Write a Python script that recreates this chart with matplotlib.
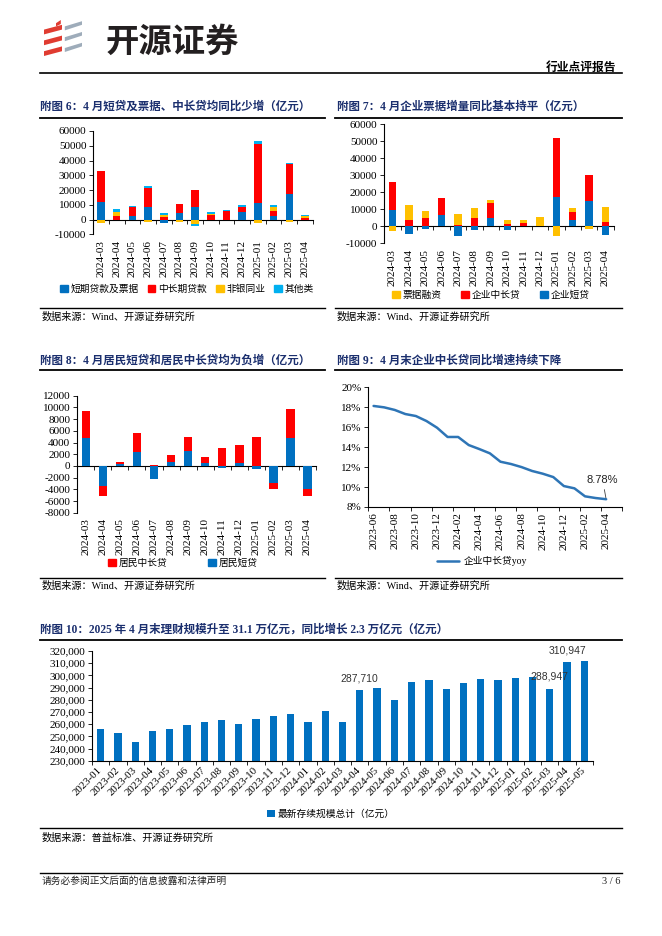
import numpy as np
import matplotlib
matplotlib.use('Agg')
import matplotlib.pyplot as plt
from matplotlib.patches import Patch, Polygon
from matplotlib.lines import Line2D

plt.rcParams['font.family'] = ['Liberation Serif', 'Noto Sans CJK SC']
plt.rcParams['axes.unicode_minus'] = False

W, H = 662, 936

BLUE = '#0070C0'
RED = '#FF0000'
YELLOW = '#FFC000'
CYAN = '#00B0F0'
NAVY = '#1B2F6E'

############################################################ data
months_a = ['2024-03', '2024-04', '2024-05', '2024-06', '2024-07', '2024-08', '2024-09',
            '2024-10', '2024-11', '2024-12', '2025-01', '2025-02', '2025-03', '2025-04']

# fig 6
loan_short = [12000, 0, 2500, 8600, -2300, 4100, 8200, 0, 0, 4800, 11300, 2300, 17000, 0]
loan_midlong = [20600, 2700, 5700, 12500, 1600, 6300, 11800, 2900, 5700, 3400, 39700, 3800, 20900, 900]
loan_nonbank = [-2500, 2500, 0, -1600, 1600, -1800, -3000, 900, 0, 600, -2300, 2700, -1800, 1800]
loan_other = [300, 2000, 1300, 1600, 1300, 300, -1100, 1200, 600, 950, 2500, 1200, 300, 700]

# fig 7
corp_short = [9800, -4300, -1400, 6900, -5500, -2000, 4700, -2000, 0, 0, 17300, 3500, 14700, -4900]
corp_midlong = [16500, 3900, 5100, 10000, 1000, 5100, 9200, 1600, 2200, 0, 34900, 5100, 15700, 2700]
corp_bill = [-2500, 8800, 4100, 0, 6500, 5900, 1400, 2300, 1700, 5700, -5500, 2400, -1800, 8900]

# fig 8
hh_short = [4700, -3500, 400, 2400, -2200, 700, 2600, 500, -340, 570, -500, -2850, 4700, -4000]
hh_midlong = [4650, -1700, 300, 3200, 100, 1200, 2300, 1050, 3000, 2980, 4900, -1050, 5100, -1200]

# fig 9
months_c = ['2023-06', '2023-07', '2023-08', '2023-09', '2023-10', '2023-11', '2023-12',
            '2024-01', '2024-02', '2024-03', '2024-04', '2024-05', '2024-06', '2024-07',
            '2024-08', '2024-09', '2024-10', '2024-11', '2024-12', '2025-01', '2025-02',
            '2025-03', '2025-04', '2025-05']
corp_yoy = [18.13, 17.99, 17.73, 17.32, 17.12, 16.62, 15.95, 15.02, 15.02, 14.21, 13.81, 13.38,
            12.54, 12.31, 12.00, 11.61, 11.34, 11.00, 10.10, 9.87, 9.07, 8.90, 8.78]

# fig 10
months_d = ['2023-01', '2023-02', '2023-03', '2023-04', '2023-05', '2023-06', '2023-07',
            '2023-08', '2023-09', '2023-10', '2023-11', '2023-12', '2024-01', '2024-02',
            '2024-03', '2024-04', '2024-05', '2024-06', '2024-07', '2024-08', '2024-09',
            '2024-10', '2024-11', '2024-12', '2025-01', '2025-02', '2025-03', '2025-04', '2025-05']
wm_scale = [255800, 252700, 245100, 254400, 255800, 259300, 262000, 263400, 259900, 263900,
            266700, 268100, 261700, 270800, 262000, 287710, 289900, 279800, 294600, 296000,
            289100, 293500, 297300, 296000, 297600, 298700, 288947, 310947, 312000]
wm_labelled = ['2024-04', '2025-03', '2025-04']


############################################################ helpers
def box(l, t, r, b):
    return [l / W, 1 - b / H, (r - l) / W, (b - t) / H]


def ftext(x, y, s, **kw):
    fig.text(x / W, 1 - y / H, s, **kw)


def hline(x0, x1, y, lw=0.8):
    fig.add_artist(Line2D([x0 / W, x1 / W], [1 - y / H, 1 - y / H], color='black', lw=lw))


def stacked(ax, series, colors, width):
    x = np.arange(len(series[0]))
    pos = np.zeros(len(x))
    neg = np.zeros(len(x))
    for vals, c in zip(series, colors):
        v = np.asarray(vals, dtype=float)
        ax.bar(x, v, width, bottom=np.where(v >= 0, pos, neg), color=c, linewidth=0)
        pos += np.clip(v, 0, None)
        neg += np.clip(v, None, 0)


def bar_axes(ax, labels, ylo, yhi, step):
    n = len(labels)
    ax.set_xlim(-0.5, n - 0.5)
    ax.set_ylim(ylo, yhi)
    ax.set_yticks(np.arange(ylo, yhi + 1, step))
    ax.tick_params(axis='y', labelsize=8, length=3, width=0.6, pad=2)
    ax.set_xticks(np.arange(n), labels, rotation=90)
    ax.tick_params(axis='x', length=0, labelsize=8, pad=4)
    for s in ['top', 'right', 'bottom']:
        ax.spines[s].set_visible(False)
    ax.spines['left'].set_linewidth(0.8)
    zero = ax.secondary_xaxis((0 - ylo) / (yhi - ylo))
    zero.set_xticks(np.arange(n + 1) - 0.5, labels=[''] * (n + 1))
    zero.tick_params(length=3, width=0.6)
    zero.spines['bottom'].set_linewidth(0.8)
    ax.patch.set_alpha(0)


def legend(handles, labels, x, y, spacing):
    fig.legend(handles, labels, loc='center', bbox_to_anchor=(x / W, 1 - y / H), ncol=len(labels),
               frameon=False, fontsize=7, handlelength=0.8, handleheight=0.8,
               handletextpad=0.3, columnspacing=spacing)


fig = plt.figure(figsize=(6.62, 9.36), dpi=100)

############################################################ page header / footer
ax_logo = fig.add_axes(box(44, 20, 84, 60))
ax_logo.axis('off')
ax_logo.set_xlim(0, 1)
ax_logo.set_ylim(0, 1)
for k in range(3):
    y0 = 0.1 + k * 0.27
    ax_logo.add_patch(Polygon([(0.0, y0), (0.45, y0 + 0.12), (0.45, y0 + 0.24), (0.0, y0 + 0.12)],
                              color='#E03C31', lw=0))
    ax_logo.add_patch(Polygon([(0.52, y0 + 0.1), (0.95, y0 + 0.24), (0.95, y0 + 0.33), (0.52, y0 + 0.2)],
                              color='#9EACBA', lw=0))
ax_logo.add_patch(Polygon([(0.3, 0.92), (0.42, 1.0), (0.42, 0.9), (0.3, 0.84)], color='#E03C31', lw=0))

ftext(106, 42, '开源证券', fontsize=24, fontweight='bold', color='#231F20',
      family='Noto Sans CJK SC', va='center')
ftext(616, 67, '行业点评报告', fontsize=8.5, fontweight='bold', ha='right', va='center',
      family='Noto Sans CJK SC')
hline(40, 622, 73, lw=1.2)

hline(40, 622, 873, lw=1.0)
ftext(42, 881, '请务必参阅正文后面的信息披露和法律声明', fontsize=7, va='center', color='#222222')
ftext(620, 881, '3 / 6', fontsize=7.5, va='center', ha='right', color='#222222')

############################################################ 附图6
ftext(40, 107, '附图 6：4 月短贷及票据、中长贷均同比少增（亿元）', fontsize=8.3,
      fontweight='bold', color=NAVY, va='center')
hline(40, 325, 117.7, lw=1.3)
ax6 = fig.add_axes(box(93.3, 131, 312.7, 234.3))
stacked(ax6, [loan_short, loan_midlong, loan_nonbank, loan_other], [BLUE, RED, YELLOW, CYAN], 0.47)
bar_axes(ax6, months_a, -10000, 60000, 10000)
legend([Patch(color=c) for c in [BLUE, RED, YELLOW, CYAN]],
       ['短期贷款及票据', '中长期贷款', '非银同业', '其他类'], 187, 289, 0.9)
hline(40, 325, 308, lw=1.0)
ftext(42, 317, '数据来源：Wind、开源证券研究所', fontsize=7.3, va='center')

############################################################ 附图7
ftext(337, 107, '附图 7：4 月企业票据增量同比基本持平（亿元）', fontsize=8.3,
      fontweight='bold', color=NAVY, va='center')
hline(335, 622, 117.7, lw=1.3)
ax7 = fig.add_axes(box(384.3, 124.3, 613.7, 243.3))
stacked(ax7, [corp_short, corp_midlong, corp_bill], [BLUE, RED, YELLOW], 0.45)
bar_axes(ax7, months_a, -10000, 60000, 10000)
legend([Patch(color=c) for c in [YELLOW, RED, BLUE]],
       ['票据融资', '企业中长贷', '企业短贷'], 491, 295, 2.0)
hline(335, 622, 308, lw=1.0)
ftext(337, 317, '数据来源：Wind、开源证券研究所', fontsize=7.3, va='center')

############################################################ 附图8
ftext(40, 361, '附图 8：4 月居民短贷和居民中长贷均为负增（亿元）', fontsize=8.3,
      fontweight='bold', color=NAVY, va='center')
hline(40, 325, 370, lw=1.3)
ax8 = fig.add_axes(box(77.3, 395.7, 316, 512.7))
stacked(ax8, [hh_short, hh_midlong], [BLUE, RED], 0.5)
bar_axes(ax8, months_a, -8000, 12000, 2000)
legend([Patch(color=c) for c in [RED, BLUE]], ['居民中长贷', '居民短贷'], 183, 563, 4.2)
hline(40, 325, 578.3, lw=1.0)
ftext(42, 586, '数据来源：Wind、开源证券研究所', fontsize=7.3, va='center')

############################################################ 附图9
ftext(337, 361, '附图 9：4 月末企业中长贷同比增速持续下降', fontsize=8.3,
      fontweight='bold', color=NAVY, va='center')
hline(335, 622, 370, lw=1.3)
ax9 = fig.add_axes(box(368.3, 387.3, 622, 507))
x9 = np.arange(len(corp_yoy))
ax9.plot(x9, corp_yoy, color='#2E75B6', lw=1.8, solid_capstyle='round', label='企业中长贷yoy')
ax9.set_xlim(-0.5, len(months_c) - 0.5)
ax9.set_ylim(8, 20)
ax9.set_yticks(range(8, 21, 2), [f'{v}%' for v in range(8, 21, 2)])
ax9.set_xticks(np.arange(0, len(months_c), 2), months_c[::2], rotation=90)
ax9.set_xticks(np.arange(-0.5, len(months_c), 2), minor=True)
ax9.tick_params(axis='x', which='major', length=0, labelsize=8, pad=4)
ax9.tick_params(axis='x', which='minor', length=3, width=0.6)
ax9.tick_params(axis='y', labelsize=8, length=3, width=0.6, pad=2)
for s in ['top', 'right']:
    ax9.spines[s].set_visible(False)
ax9.patch.set_alpha(0)
ax9.annotate(f'{corp_yoy[-1]:.2f}%', xy=(x9[-1], corp_yoy[-1]), xytext=(-2.5, 13.5),
             textcoords='offset points', ha='center', va='center', fontsize=8,
             family='Liberation Sans', color='#222222',
             arrowprops=dict(arrowstyle='-', color='#404040', lw=0.6, shrinkA=1, shrinkB=1))
fig.legend(*ax9.get_legend_handles_labels(), loc='center', bbox_to_anchor=(482 / W, 1 - 561 / H),
           frameon=False, fontsize=7, handlelength=2.2, handletextpad=0.5)
hline(335, 622, 578.3, lw=1.0)
ftext(337, 586, '数据来源：Wind、开源证券研究所', fontsize=7.3, va='center')

############################################################ 附图10
ftext(40, 630, '附图 10：2025 年 4 月末理财规模升至 31.1 万亿元，同比增长 2.3 万亿元（亿元）',
      fontsize=8.3, fontweight='bold', color=NAVY, va='center')
hline(40, 622, 639.5, lw=1.3)
ax10 = fig.add_axes(box(92, 651, 593, 760.7))
x10 = np.arange(len(months_d))
ax10.bar(x10, wm_scale, 0.42, color=BLUE, linewidth=0, label='最新存续规模总计（亿元）')
ax10.set_xlim(-0.5, len(months_d) - 0.5)
ax10.set_ylim(230000, 320000)
ax10.set_yticks(range(230000, 320001, 10000), [f'{v:,}' for v in range(230000, 320001, 10000)])
ax10.set_xticks(x10, months_d, rotation=45, ha='right', va='center', rotation_mode='anchor')
ax10.set_xticks(np.arange(len(months_d) + 1) - 0.5, minor=True)
ax10.tick_params(axis='x', which='major', length=0, labelsize=7.8, pad=6)
ax10.tick_params(axis='x', which='minor', length=3, width=0.6)
ax10.tick_params(axis='y', labelsize=8, length=3, width=0.6, pad=2)
for s in ['top', 'right']:
    ax10.spines[s].set_visible(False)
ax10.patch.set_alpha(0)
for m in wm_labelled:
    i = months_d.index(m)
    ax10.annotate(f'{wm_scale[i]:,}', (i, wm_scale[i]), xytext=(0, 8.6), textcoords='offset points',
                  ha='center', va='center', fontsize=7.5, family='Liberation Sans', color='#333333')
fig.legend(*ax10.get_legend_handles_labels(), loc='center', bbox_to_anchor=(331 / W, 1 - 814 / H),
           frameon=False, fontsize=7, handlelength=0.8, handleheight=0.8, handletextpad=0.3)
hline(40, 622, 828.3, lw=1.0)
ftext(42, 838, '数据来源：普益标准、开源证券研究所', fontsize=7.3, va='center')

fig.savefig('out.png', dpi=100)
